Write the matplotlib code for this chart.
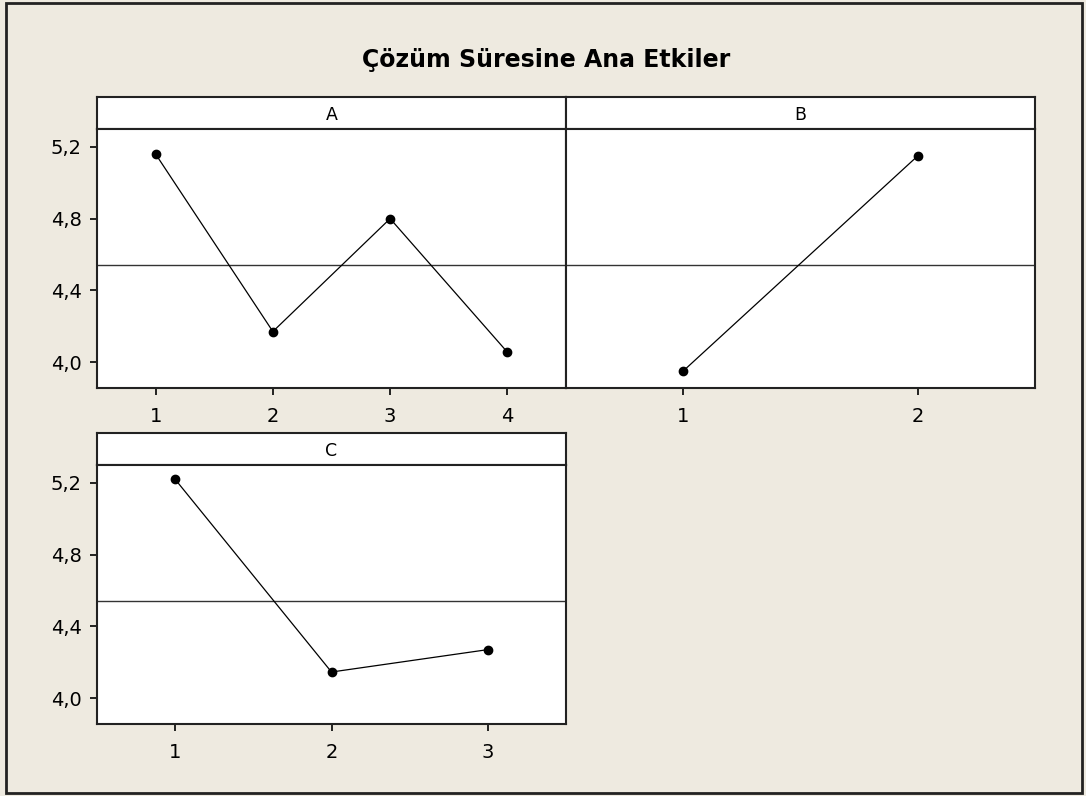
import matplotlib.pyplot as plt
from matplotlib.patches import Rectangle
from matplotlib.ticker import FuncFormatter

# data
a_levels = [1, 2, 3, 4]
a_means = [5.16, 4.17, 4.80, 4.055]
b_levels = [1, 2]
b_means = [3.95, 5.15]
c_levels = [1, 2, 3]
c_means = [5.22, 4.145, 4.27]
grand_mean = 4.54
yticks = [4.0, 4.4, 4.8, 5.2]

W, H = 1086, 796
bg = '#eeeae0'
fig = plt.figure(figsize=(W / 100, H / 100), dpi=100, facecolor=bg)
fig.patches.append(Rectangle((6 / W, 3 / H), 1076 / W, 790 / H, transform=fig.transFigure,
                             fill=False, edgecolor='#222222', linewidth=2))
fig.text(546 / W, 1 - 60 / H, 'Çözüm Süresine Ana Etkiler', ha='center', va='center',
         fontsize=17, fontweight='bold')

comma = FuncFormatter(lambda v, p: f'{v:.1f}'.replace('.', ','))


def box(x0, x1, y0, y1):
    return [x0 / W, 1 - y1 / H, (x1 - x0) / W, (y1 - y0) / H]


def panel(x0, x1, ytop, levels, means, label, show_y):
    strip = fig.add_axes(box(x0, x1, ytop, ytop + 32))
    strip.set_xticks([])
    strip.set_yticks([])
    strip.set_facecolor('white')
    strip.text(0.5, 0.45, label, ha='center', va='center', fontsize=12.5, transform=strip.transAxes)
    ax = fig.add_axes(box(x0, x1, ytop + 32, ytop + 291))
    ax.set_facecolor('white')
    ax.axhline(grand_mean, color='#333333', linewidth=1)
    ax.plot(levels, means, color='black', linewidth=0.9, marker='o', markersize=6)
    ax.set_xlim(0.5, len(levels) + 0.5)
    ax.set_ylim(3.855, 5.30)
    ax.set_xticks(levels)
    ax.set_yticks(yticks)
    ax.yaxis.set_major_formatter(comma)
    ax.tick_params(labelsize=14, length=5, width=1.2)
    ax.tick_params(axis='x', pad=9)
    ax.tick_params(axis='y', pad=6)
    if not show_y:
        ax.tick_params(axis='y', left=False, labelleft=False)
    for a in (ax, strip):
        for s in a.spines.values():
            s.set_linewidth(1.5)
            s.set_color('#222222')
    return ax


panel(97, 566, 97, a_levels, a_means, 'A', True)
panel(566, 1035, 97, b_levels, b_means, 'B', False)
panel(97, 566, 433, c_levels, c_means, 'C', True)

fig.savefig('out.png', dpi=100, facecolor=bg)
